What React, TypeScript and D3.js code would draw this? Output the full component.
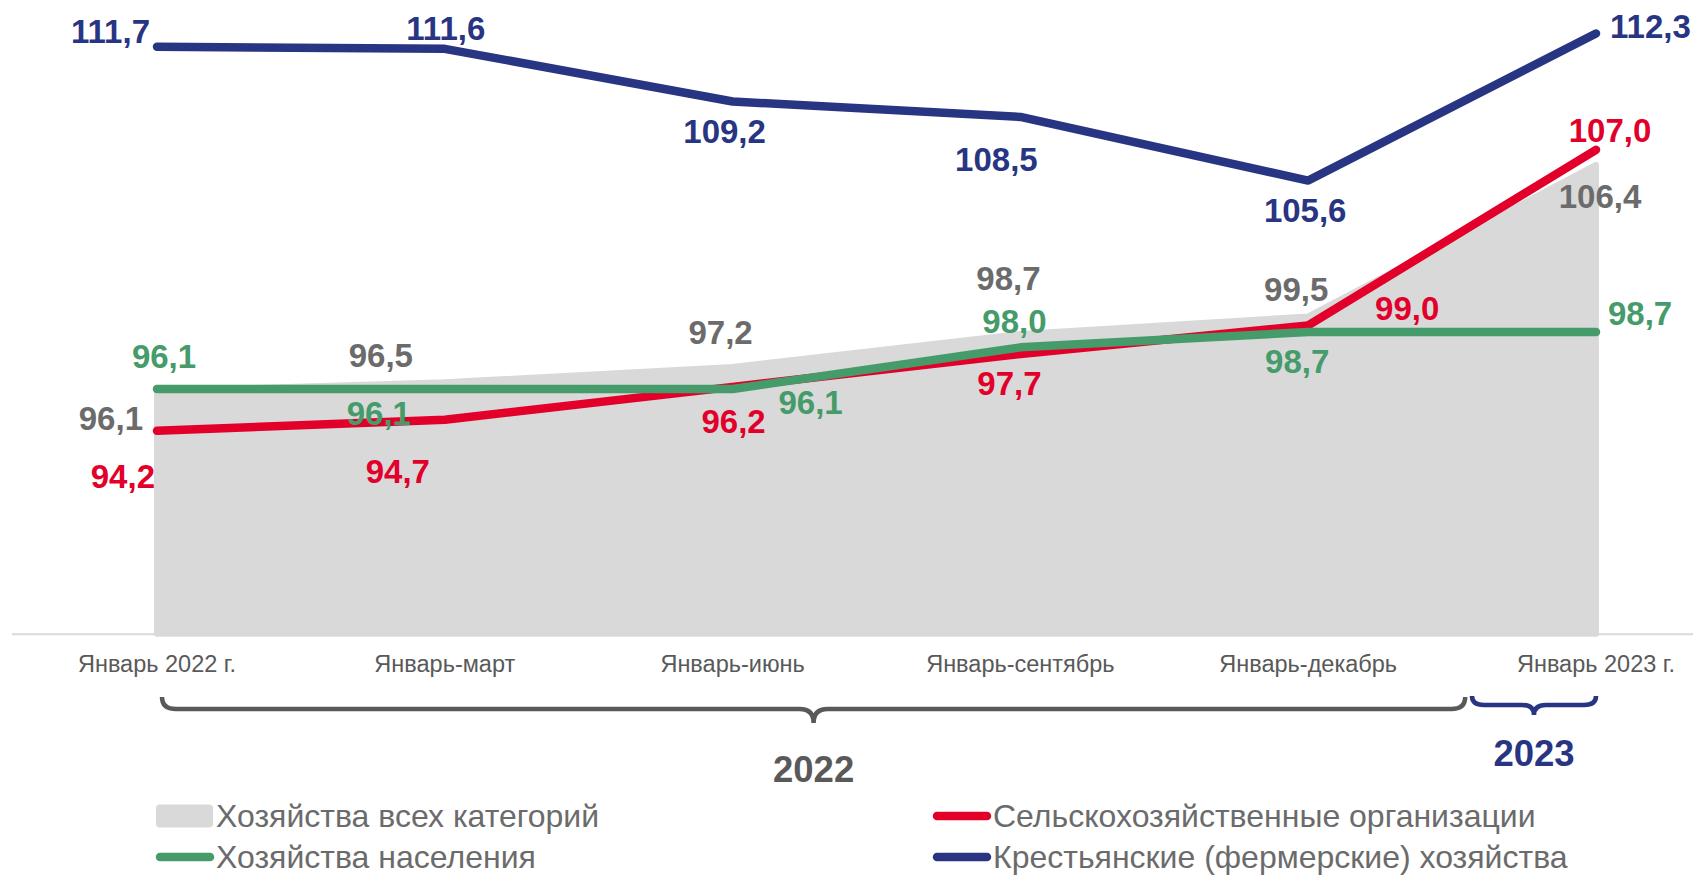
import React, { useRef, useEffect } from 'react';
import * as d3 from 'd3';

// categories and values
const categories = ['Январь 2022 г.', 'Январь-март', 'Январь-июнь', 'Январь-сентябрь', 'Январь-декабрь', 'Январь 2023 г.'];
const allFarms = [96.1, 96.5, 97.2, 98.7, 99.5, 106.4];
const agriOrgs = [94.2, 94.7, 96.2, 97.7, 99.0, 107.0];
const households = [96.1, 96.1, 96.1, 98.0, 98.7, 98.7];
const peasantFarms = [111.7, 111.6, 109.2, 108.5, 105.6, 112.3];

const legendNames = [
  'Хозяйства всех категорий',
  'Сельскохозяйственные организации',
  'Хозяйства населения',
  'Крестьянские (фермерские) хозяйства',
];
const yearLabels = ['2022', '2023'];

// label placement relative to the point: [dx, dy, anchor]
const grayOffsets = [[-14, 41, 'end'], [-64, -13, 'middle'], [-12, -21, 'middle'], [-12, -42, 'middle'], [-12, -13, 'middle'], [4, 45, 'middle']];
const redOffsets = [[-2, 57, 'end'], [-47, 63, 'middle'], [1, 46, 'middle'], [-11, 41, 'middle'], [99, -5, 'middle'], [14, -8, 'middle']];
const greenOffsets = [[7, -21, 'middle'], [-66, 36, 'middle'], [78, 25, 'middle'], [-6, -14, 'middle'], [-11, 41, 'middle'], [12, -7, 'start']];
const blueOffsets = [[-7, -4, 'end'], [1, -9, 'middle'], [-8, 41, 'middle'], [-24, 54, 'middle'], [-3, 41, 'middle'], [14, 4, 'start']];

const FONT = '"Liberation Sans", Arial, sans-serif';

function App() {
  const svgRef = useRef(null);

  useEffect(() => {
    const svg = d3.select(svgRef.current);
    svg.selectAll('*').remove();

    const width = 1693;
    const height = 875;

    const x = d3.scalePoint().domain(categories).range([157, 1596]);
    const y = d3.scaleLinear().domain([85, 112.3]).range([632.7, 33.5]);

    const colors = { gray: '#d9d9d9', grayText: '#6b6b6b', red: '#e2002b', green: '#459b69', blue: '#283583' };

    svg.attr('width', width).attr('height', height);

    // area
    const area = d3.area()
      .x((d, i) => x(categories[i]))
      .y0(y(85) + 1)
      .y1(d => y(d) + 2);
    svg.append('path')
      .datum(allFarms)
      .attr('d', area)
      .attr('fill', colors.gray)
      .attr('stroke', colors.gray)
      .attr('stroke-width', 6)
      .attr('stroke-linejoin', 'round');

    // axis line
    svg.append('line')
      .attr('x1', 12).attr('x2', width)
      .attr('y1', y(85) + 1.5).attr('y2', y(85) + 1.5)
      .attr('stroke', '#d9d9d9')
      .attr('stroke-width', 2);

    const line = d3.line()
      .x((d, i) => x(categories[i]))
      .y(d => y(d));

    [[agriOrgs, colors.red], [households, colors.green], [peasantFarms, colors.blue]].forEach(([vals, c]) => {
      svg.append('path')
        .datum(vals)
        .attr('d', line)
        .attr('fill', 'none')
        .attr('stroke', c)
        .attr('stroke-width', 8.5)
        .attr('stroke-linecap', 'round')
        .attr('stroke-linejoin', 'round');
    });

    // data labels
    const addLabels = (vals, offs, color) => {
      svg.append('g').selectAll('text')
        .data(vals)
        .enter()
        .append('text')
        .attr('x', (d, i) => x(categories[i]) + offs[i][0])
        .attr('y', (d, i) => y(d) + offs[i][1])
        .attr('text-anchor', (d, i) => offs[i][2])
        .style('font-family', FONT)
        .style('font-size', '33px')
        .style('font-weight', 'bold')
        .attr('fill', color)
        .text(d => d.toFixed(1).replace('.', ','));
    };
    addLabels(allFarms, grayOffsets, colors.grayText);
    addLabels(agriOrgs, redOffsets, colors.red);
    addLabels(households, greenOffsets, colors.green);
    addLabels(peasantFarms, blueOffsets, colors.blue);

    // category labels
    svg.append('g').selectAll('text')
      .data(categories)
      .enter()
      .append('text')
      .attr('x', d => x(d))
      .attr('y', 672)
      .attr('text-anchor', 'middle')
      .style('font-family', FONT)
      .style('font-size', '23.5px')
      .attr('fill', '#595959')
      .text(d => d);

    // braces
    const brace = (x1, x2, y0, y1, y2, r) => {
      const xm = (x1 + x2) / 2;
      return `M${x1},${y0} Q${x1},${y1} ${x1 + r},${y1} L${xm - r},${y1} Q${xm},${y1} ${xm},${y2} Q${xm},${y1} ${xm + r},${y1} L${x2 - r},${y1} Q${x2},${y1} ${x2},${y0}`;
    };
    svg.append('path')
      .attr('d', brace(x(categories[0]) + 5, x(categories[4]) + 157, 697, 709, 723, 14))
      .attr('fill', 'none')
      .attr('stroke', '#595959')
      .attr('stroke-width', 4.5);
    svg.append('path')
      .attr('d', brace(x(categories[5]) - 124, x(categories[5]), 696, 705, 715, 12))
      .attr('fill', 'none')
      .attr('stroke', colors.blue)
      .attr('stroke-width', 4.5);

    svg.append('text')
      .attr('x', (x(categories[0]) + x(categories[4]) + 162) / 2)
      .attr('y', 782)
      .attr('text-anchor', 'middle')
      .style('font-family', FONT)
      .style('font-size', '36.5px')
      .style('font-weight', 'bold')
      .attr('fill', '#595959')
      .text(yearLabels[0]);
    svg.append('text')
      .attr('x', x(categories[5]) - 62)
      .attr('y', 766)
      .attr('text-anchor', 'middle')
      .style('font-family', FONT)
      .style('font-size', '36.5px')
      .style('font-weight', 'bold')
      .attr('fill', colors.blue)
      .text(yearLabels[1]);

    // legend
    const legend = [
      { name: legendNames[0], type: 'area', color: colors.gray, x: 156, y: 816 },
      { name: legendNames[1], type: 'line', color: colors.red, x: 933, y: 816 },
      { name: legendNames[2], type: 'line', color: colors.green, x: 156, y: 857 },
      { name: legendNames[3], type: 'line', color: colors.blue, x: 933, y: 857 },
    ];
    legend.forEach(item => {
      if (item.type === 'area') {
        svg.append('rect')
          .attr('x', item.x).attr('y', item.y - 11.5)
          .attr('width', 57).attr('height', 23)
          .attr('rx', 4)
          .attr('fill', item.color);
      } else {
        svg.append('line')
          .attr('x1', item.x + 4).attr('x2', item.x + 54)
          .attr('y1', item.y).attr('y2', item.y)
          .attr('stroke', item.color)
          .attr('stroke-width', 8.5)
          .attr('stroke-linecap', 'round');
      }
      svg.append('text')
        .attr('x', item.x + 60)
        .attr('y', item.y + 11)
        .style('font-family', FONT)
        .style('font-size', '32px')
        .attr('fill', '#6b6b6b')
        .text(item.name);
    });
  }, []);

  return <svg ref={svgRef} style={{ position: 'absolute', left: 0, top: 0 }}></svg>;
}

export default App;
